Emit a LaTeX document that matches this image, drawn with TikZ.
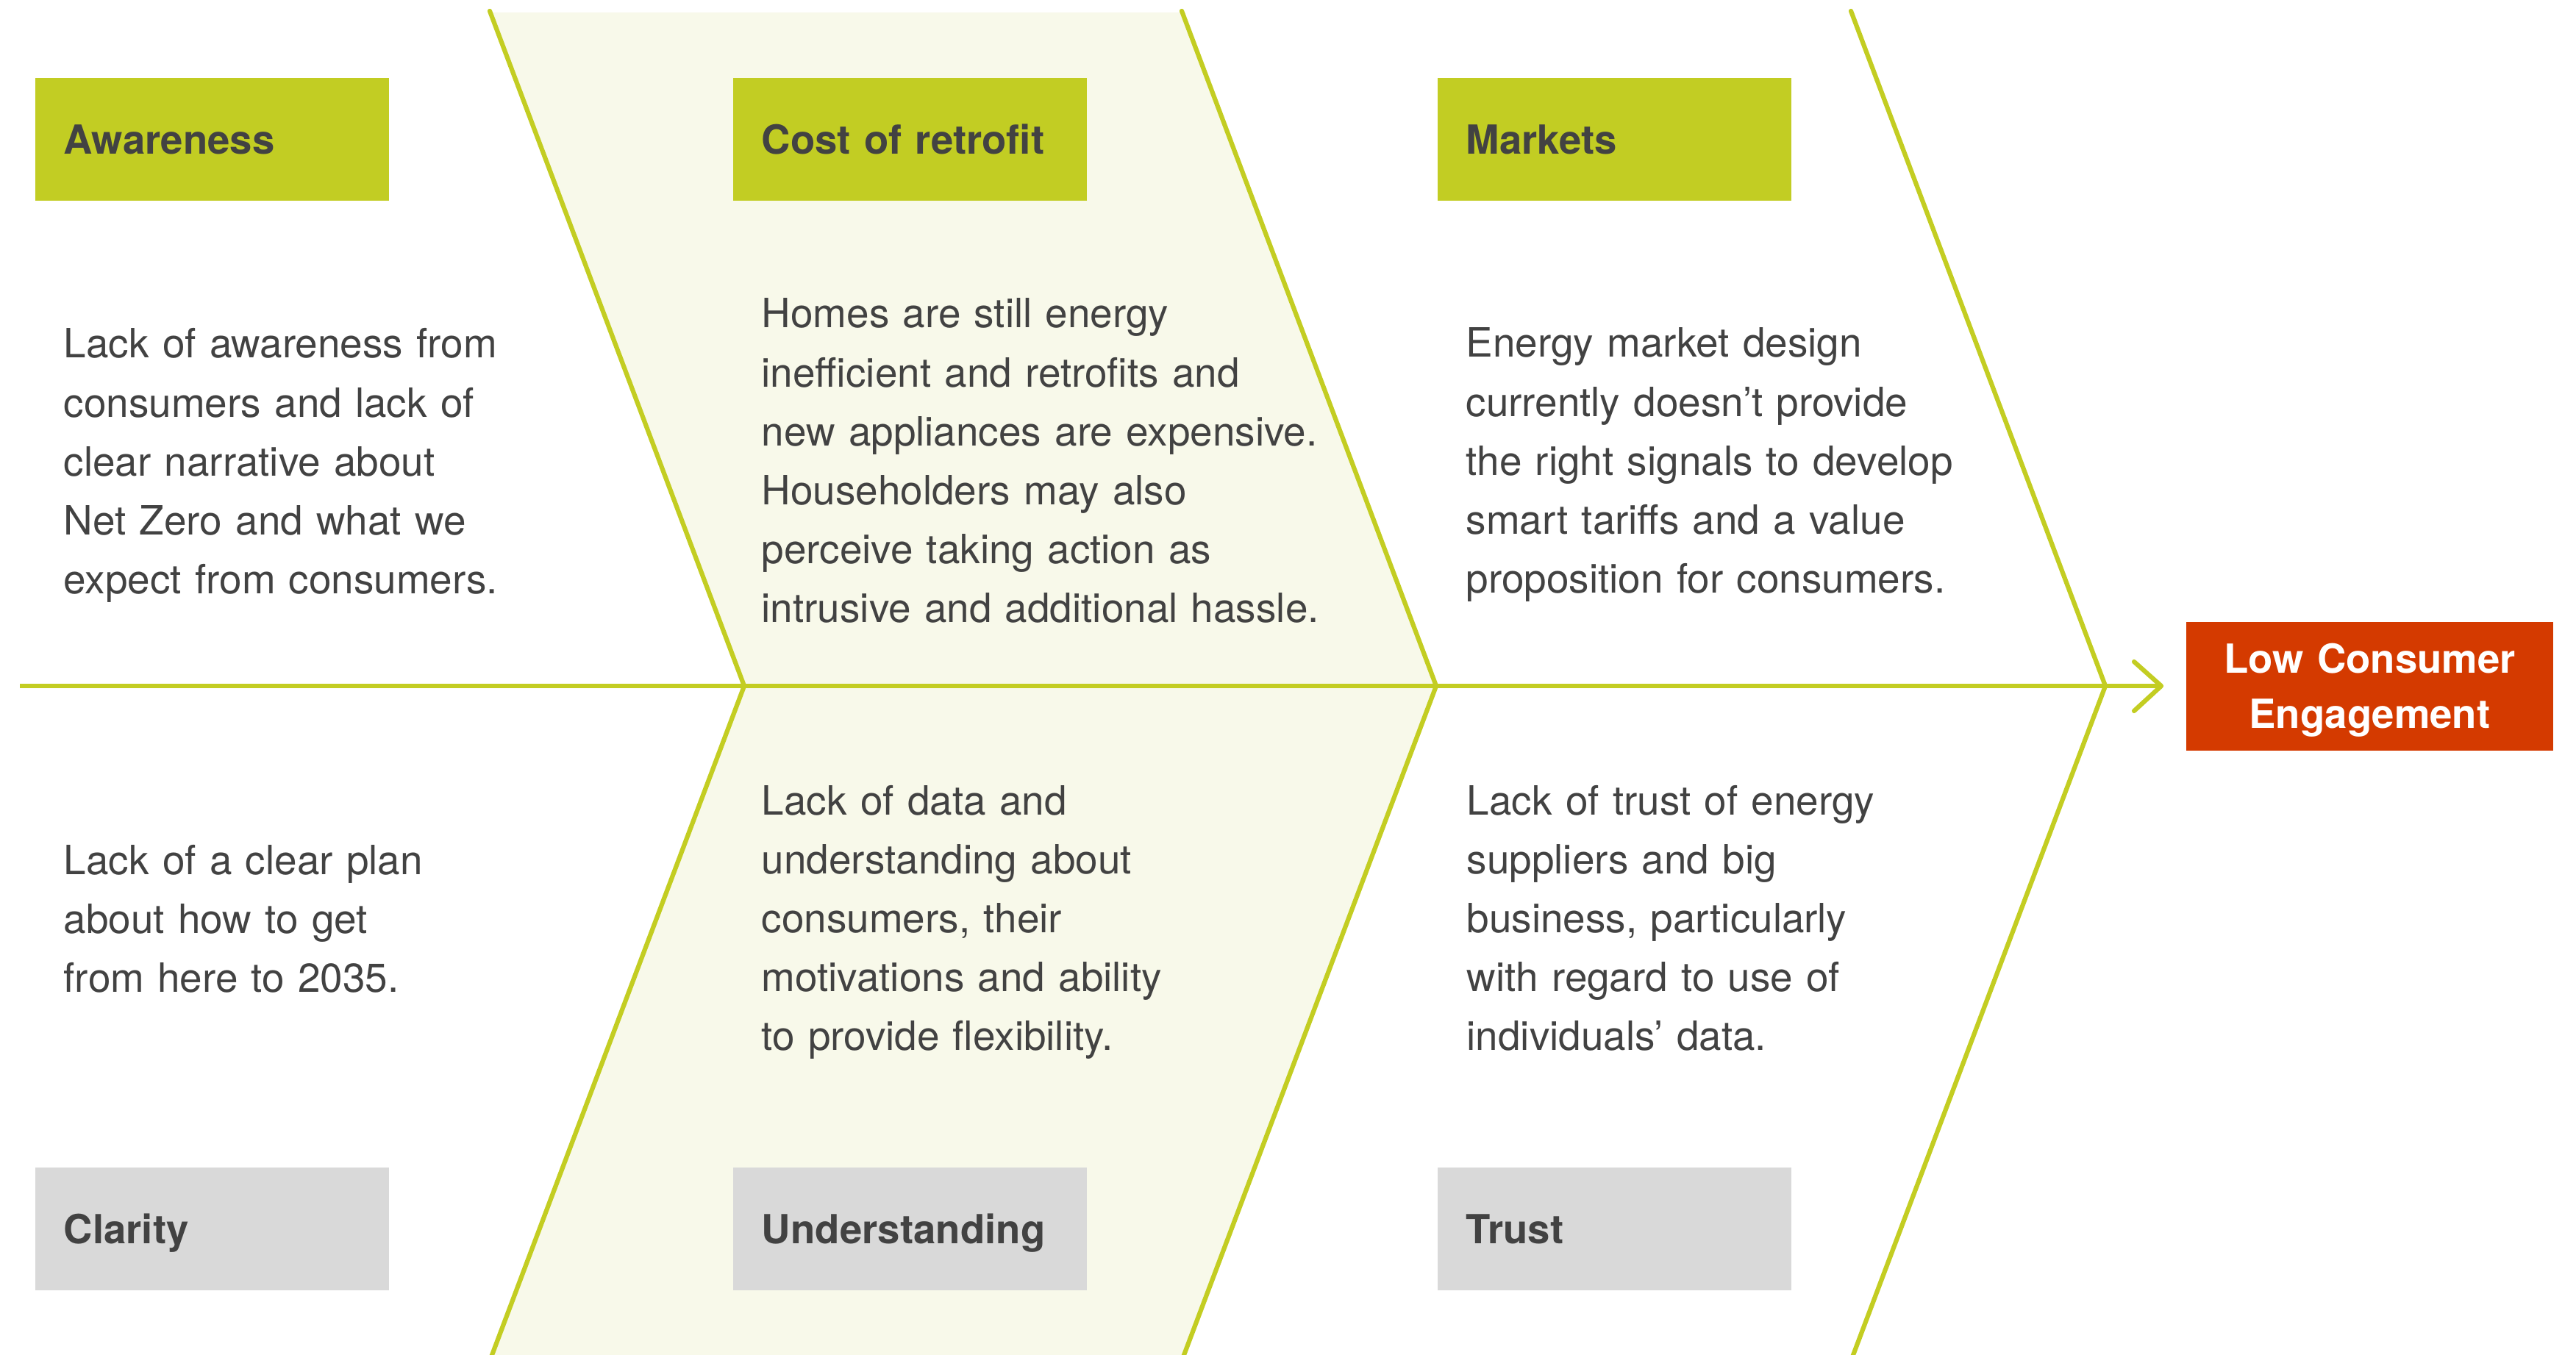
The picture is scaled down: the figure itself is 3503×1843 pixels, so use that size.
\documentclass[tikz,border=0pt]{standalone}
\usepackage{fontspec}
\setmainfont{TeX Gyre Heros}
\definecolor{bonegreen}{HTML}{C3CD22}
\definecolor{headgreen}{HTML}{C2CD23}
\definecolor{bandfill}{HTML}{F8F9EA}
\definecolor{headgrey}{HTML}{D9D9D9}
\definecolor{inkgrey}{HTML}{424242}
\definecolor{alertred}{HTML}{D43A00}
\begin{document}
\begin{tikzpicture}[x=0.01cm,y=-0.01cm,
  bone/.style={draw=bonegreen,line width=0.062cm,line cap=round,line join=round},
  header/.style={rectangle,inner xsep=0.39cm,inner ysep=0pt,text width=4.03cm,
    minimum height=1.67cm,align=left,text=inkgrey,
    font=\bfseries\fontsize{15.5pt}{18pt}\selectfont,text height=11.2pt,text depth=0pt},
  causehead/.style={header,fill=headgreen},
  effecthead/.style={header,fill=headgrey},
  body/.style={anchor=base west,inner sep=0pt,text width=8cm,align=left,text=inkgrey,
    font=\fontsize{15.6pt}{22.76pt}\selectfont},
  goalbox/.style={rectangle,fill=alertred,text=white,inner sep=0pt,
    minimum width=4.99cm,minimum height=1.75cm,text width=4.99cm,align=center,
    font=\bfseries\fontsize{15.5pt}{0.75cm}\selectfont,text height=11.2pt,text depth=0.75cm}]
\useasboundingbox (0,0) rectangle (3503,1843);
\clip (0,0) rectangle (3503,1843);

% chevron bones
\coordinate (c1t) at (666,15);  \coordinate (c1m) at (1012,933); \coordinate (c1b) at (666,1851);
\coordinate (c2t) at (1607,15); \coordinate (c2m) at (1953,933); \coordinate (c2b) at (1607,1851);
\coordinate (c3t) at (2517,15); \coordinate (c3m) at (2863,933); \coordinate (c3b) at (2517,1851);

% shaded middle band
\fill[bandfill] (667,17) -- (1607,17) -- (c2m) -- (c2b) -- (c1b) -- (c1m) -- cycle;

% spine and arrow head
\coordinate (sp0) at (27,933);
\coordinate (tip) at (2939,933);
\draw[bone,line cap=butt] (sp0) -- (tip);
\draw[bone] (tip) ++(-37,-33) -- (tip) -- ++(-37,34);

\draw[bone] (c1t) -- (c1m) -- (c1b);
\draw[bone] (c2t) -- (c2m) -- (c2b);
\draw[bone] (c3t) -- (c3m) -- (c3b);

% category headers
\node[causehead] (awareness) at (288.5,189.5) {Awareness};
\node[causehead] (cost) at (1237.5,189.5) {Cost of retrofit};
\node[causehead] (markets) at (2195.5,189.5) {Markets};
\node[effecthead] (clarity) at (288.5,1671.5) {Clarity};
\node[effecthead] (understanding) at (1237.5,1671.5) {Understanding};
\node[effecthead] (trust) at (2195.5,1671.5) {Trust};

% descriptions
\node[body] (awtext) at (86,487) {Lack of awareness from\\consumers and lack of\\clear narrative about\\Net Zero and what we\\expect from consumers.};
\node[body] (costtext) at (1035,446) {Homes are still energy\\inefficient and retrofits and\\new appliances are expensive.\\Householders may also\\perceive taking action as\\intrusive and additional hassle.};
\node[body] (marktext) at (1993,486) {Energy market design\\currently doesn’t provide\\the right signals to develop\\smart tariffs and a value\\proposition for consumers.};
\node[body] (cltext) at (86,1189) {Lack of a clear plan\\about how to get\\from here to 2035.};
\node[body] (undtext) at (1035,1108) {Lack of data and\\understanding about\\consumers, their\\motivations and ability\\to provide flexibility.};
\node[body] (trtext) at (1994,1108) {Lack of trust of energy\\suppliers and big\\business, particularly\\with regard to use of\\individuals’ data.};

% effect
\node[goalbox] (goal) at (3222.5,933.5) {Low Consumer\\Engagement};
\end{tikzpicture}
\end{document}
